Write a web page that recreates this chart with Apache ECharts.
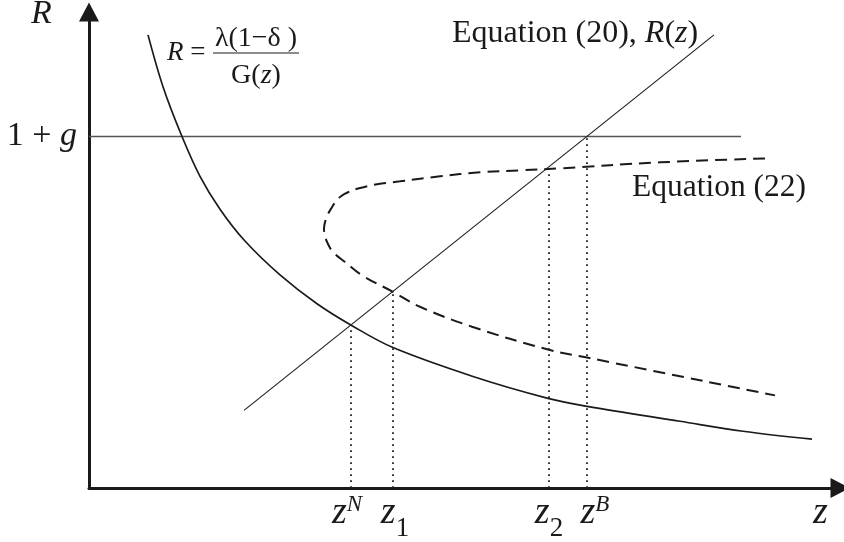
<!DOCTYPE html>
<html>
<head>
<meta charset="utf-8">
<script src="https://cdn.jsdelivr.net/npm/echarts@6/dist/echarts.min.js"></script>
<style>
  html, body { margin: 0; padding: 0; background: #fff; }
  #chart { width: 844px; height: 542px; }
</style>
</head>
<body>
<div id="chart"></div>
<script>
// diagram units: z along the horizontal axis, R up the vertical one
const solidZ = [59, 74, 93, 111, 131, 156, 191, 228, 263, 304, 384, 459, 498, 591, 654, 723]
const solidR = [455, 403, 353, 313, 280, 248, 214, 185, 163, 141, 112, 90, 82, 67, 57, 49]

const dashZ = [676, 571, 471, 431, 391, 351, 311, 288, 270, 259, 252, 247, 243, 239, 236, 235, 236, 239, 244, 256, 274, 304, 331, 383, 459, 498, 686]
const dashR = [331, 327, 321, 319, 317, 313, 308, 305, 301, 297, 293, 288, 282, 275, 267, 260, 253, 245, 237, 227, 213, 197, 182, 162, 139, 131, 93]

const rzZ = [155, 625]
const rzR = [78, 455]

const onePlusG = 353
const gLineZ = [0, 652]

const zTicks = [262, 304, 460, 498]
const zTickNames = ['z^N', 'z_1', 'z_2', 'z^B']
const zTickTops = [163, 197, 322, 353]

const FONT = 'Liberation Serif'
const INK = '#1a1a1a'

// small horizontal nudges so the tick labels sit like in the print
const labelNudge = [-4, 2, 0, 8]

function pairs(xs, ys) {
  return xs.map(function (x, i) { return [x, ys[i]] })
}

const tickRich = {}
zTickNames.forEach(function (name, i) {
  const n = labelNudge[i]
  const sup = name.charAt(1) === '^'
  tickRich['b' + i] = {
    fontFamily: FONT, fontStyle: 'italic', fontSize: 38, color: INK, lineHeight: 44,
    padding: [0, 0, 0, n > 0 ? 2 * n : 0]
  }
  tickRich['s' + i] = {
    fontFamily: FONT, fontStyle: sup ? 'italic' : 'normal', fontSize: sup ? 23 : 27, color: INK,
    lineHeight: 44, verticalAlign: 'top',
    padding: [sup ? 2 : 24, n < 0 ? -2 * n : 0, 0, 0]
  }
})

const dotted = zTicks.map(function (z, i) {
  return {
    type: 'line',
    data: [[z, 0], [z, zTickTops[i]]],
    showSymbol: false,
    silent: true,
    lineStyle: { color: '#222', width: 1.8, type: [1.8, 4.2] }
  }
})

const chart = echarts.init(document.getElementById('chart'))
chart.setOption({
  animation: false,
  grid: { left: 89, right: 4, top: 12, bottom: 52 },
  xAxis: {
    type: 'value',
    min: 0,
    max: 751,
    splitLine: { show: false },
    axisTick: { show: false },
    axisLine: {
      symbol: ['none', 'triangle'],
      symbolSize: [20, 19],
      lineStyle: { color: INK, width: 3 }
    },
    axisLabel: {
      customValues: zTicks,
      margin: 3,
      hideOverlap: false,
      formatter: function (v) {
        const i = zTicks.indexOf(v)
        if (i < 0) return ''
        const name = zTickNames[i]
        return '{b' + i + '|' + name.charAt(0) + '}{s' + i + '|' + name.slice(2) + '}'
      },
      rich: tickRich
    }
  },
  yAxis: {
    type: 'value',
    min: 0,
    max: 478,
    splitLine: { show: false },
    axisTick: { show: false },
    axisLine: {
      symbol: ['none', 'triangle'],
      symbolSize: [20, 19],
      lineStyle: { color: INK, width: 3 }
    },
    axisLabel: {
      customValues: [onePlusG],
      margin: 12,
      formatter: function () { return '{n|1 + }{g|g}' },
      rich: {
        n: { fontFamily: FONT, fontSize: 34, color: INK },
        g: { fontFamily: FONT, fontStyle: 'italic', fontSize: 34, color: INK }
      }
    }
  },
  graphic: [
    { type: 'text', x: 31, y: 14, style: { text: 'R', fontFamily: FONT, fontStyle: 'italic', fontSize: 34, fill: INK, verticalAlign: 'middle' } },
    { type: 'text', x: 813, y: 513, style: { text: 'z', fontFamily: FONT, fontStyle: 'italic', fontSize: 38, fill: INK, verticalAlign: 'middle' } },
    // R = λ(1−δ)/G(z)
    { type: 'text', x: 167, y: 53, style: { text: '{i|R} =', fontFamily: FONT, fontSize: 27, fill: INK, verticalAlign: 'middle',
      rich: { i: { fontFamily: FONT, fontStyle: 'italic', fontSize: 27 } } } },
    { type: 'text', x: 256, y: 39, style: { text: 'λ(1−δ )', fontFamily: FONT, fontSize: 28, fill: INK, align: 'center', verticalAlign: 'middle' } },
    { type: 'line', shape: { x1: 213, y1: 53, x2: 299, y2: 53 }, style: { stroke: INK, lineWidth: 1.2 } },
    { type: 'text', x: 256, y: 76, style: { text: 'G({i|z})', fontFamily: FONT, fontSize: 28, fill: INK, align: 'center', verticalAlign: 'middle',
      rich: { i: { fontFamily: FONT, fontStyle: 'italic', fontSize: 28 } } } },
    { type: 'text', x: 452, y: 34, style: { text: 'Equation (20), {i|R}({i|z})', fontFamily: FONT, fontSize: 32, fill: INK, verticalAlign: 'middle',
      rich: { i: { fontFamily: FONT, fontStyle: 'italic', fontSize: 32 } } } },
    { type: 'text', x: 632, y: 188, style: { text: 'Equation (22)', fontFamily: FONT, fontSize: 31.5, fill: INK, verticalAlign: 'middle' } }
  ],
  series: [
    {
      type: 'line',
      data: pairs(gLineZ, [onePlusG, onePlusG]),
      showSymbol: false,
      silent: true,
      lineStyle: { color: '#555', width: 1.3 }
    },
    {
      type: 'line',
      data: pairs(rzZ, rzR),
      showSymbol: false,
      silent: true,
      lineStyle: { color: INK, width: 1.1 }
    },
    {
      type: 'line',
      data: pairs(solidZ, solidR),
      smooth: 0.35,
      showSymbol: false,
      silent: true,
      lineStyle: { color: INK, width: 1.7 }
    },
    {
      type: 'line',
      data: pairs(dashZ, dashR),
      smooth: 0.4,
      showSymbol: false,
      silent: true,
      lineStyle: { color: INK, width: 2, type: [12, 7] }
    }
  ].concat(dotted)
})
</script>
</body>
</html>
